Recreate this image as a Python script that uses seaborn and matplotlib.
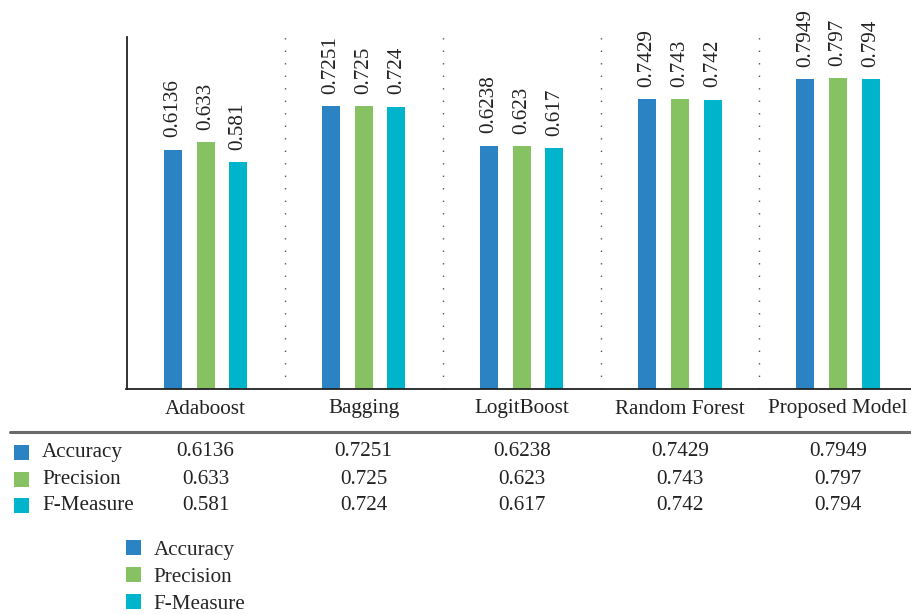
import numpy as np
import pandas as pd
import matplotlib
matplotlib.use("Agg")
from matplotlib import pyplot as plt
from matplotlib import transforms
from matplotlib.patches import Rectangle
import seaborn as sns

models = ["Adaboost", "Bagging", "LogitBoost", "Random Forest", "Proposed Model"]
metrics = ["Accuracy", "Precision", "F-Measure"]
accuracy = [0.6136, 0.7251, 0.6238, 0.7429, 0.7949]
precision = [0.633, 0.725, 0.623, 0.743, 0.797]
fmeasure = [0.581, 0.724, 0.617, 0.742, 0.794]
labels_acc = ["0.6136", "0.7251", "0.6238", "0.7429", "0.7949"]
labels_pre = ["0.633", "0.725", "0.623", "0.743", "0.797"]
labels_fm = ["0.581", "0.724", "0.617", "0.742", "0.794"]
colors = ["#2b83c3", "#86c162", "#00b5cb"]

df = pd.DataFrame({"Model": models * 3,
                   "Metric": [m for m in metrics for _ in models],
                   "Value": accuracy + precision + fmeasure})
text_labels = [labels_acc, labels_pre, labels_fm]

sns.set_style("white")
plt.rcParams['font.family'] = ['Liberation Serif', 'DejaVu Serif']
fs = 15.2
W, H = 911, 614

fig = plt.figure(figsize=(W / 100, H / 100), dpi=100)
# axes: left 126.5px, bottom 389px from top, top 37px
ax = fig.add_axes([126.5 / W, (H - 389) / H, (W - 126.5) / W, (389 - 37) / H])

sns.barplot(data=df, x="Model", y="Value", hue="Metric", palette=colors,
            width=0.62, gap=0.45, ax=ax, legend=False, saturation=1,
            linewidth=0, edgecolor="none")

ax.set_xlim(-0.5, 4.5 - 6 / 158)
ax.set_ylim(0, 0.9026)
ax.set_xlabel("")
ax.set_ylabel("")
ax.set_xticks([])
ax.set_yticks([])
for s in ["top", "right"]:
    ax.spines[s].set_visible(False)
ax.spines["left"].set_color("#222222")
ax.spines["bottom"].set_color("#222222")
ax.spines["left"].set_linewidth(1.3)
ax.spines["bottom"].set_linewidth(1.3)

for b in np.arange(0.5, 4.0, 1.0):
    ax.axvline(b, color="#555555", lw=1.0, ls=(0, (1, 8)), ymin=0.0, ymax=1.0)

for cont, labs in zip(ax.containers, text_labels):
    for patch, lab in zip(cont, labs):
        ax.annotate(lab, (patch.get_x() + patch.get_width() / 2, patch.get_height()),
                    xytext=(0, 9), textcoords="offset points", rotation=90,
                    ha="center", va="bottom", fontsize=fs, color="#222222")

# category labels and data table below the axis
tr = transforms.blended_transform_factory(ax.transData, fig.transFigure)
def fy(px):
    return (H - px) / H

for i, m in enumerate(models):
    ax.text(i, fy(409), m, transform=tr, ha="center", va="center", fontsize=fs, color="#222222")

fig.add_artist(plt.Line2D([10 / W, 1.0], [fy(432), fy(432)], color="#6b6b6b", lw=2.2))

table_rows = [labels_acc, labels_pre, labels_fm]
row_y = [452, 479, 505]
for r, (name, vals) in enumerate(zip(metrics, table_rows)):
    y = row_y[r]
    fig.add_artist(Rectangle((14 / W, fy(y + 8)), 15 / W, 15 / H, color=colors[r], lw=0))
    fig.text(42 / W, fy(y), name, ha="left", va="center", fontsize=fs, color="#222222")
    for i, v in enumerate(vals):
        ax.text(i, fy(y), v, transform=tr, ha="center", va="center", fontsize=fs, color="#222222")

# legend
handles = [Rectangle((0, 0), 1, 1, color=c, lw=0) for c in colors]
fig.legend(handles, metrics, loc="upper left", bbox_to_anchor=(126 / W, fy(540)),
           frameon=False, fontsize=fs, handlelength=0.7, handleheight=0.7,
           handletextpad=0.6, labelspacing=0.34, borderaxespad=0, borderpad=0)

fig.savefig("out.png", dpi=100)
